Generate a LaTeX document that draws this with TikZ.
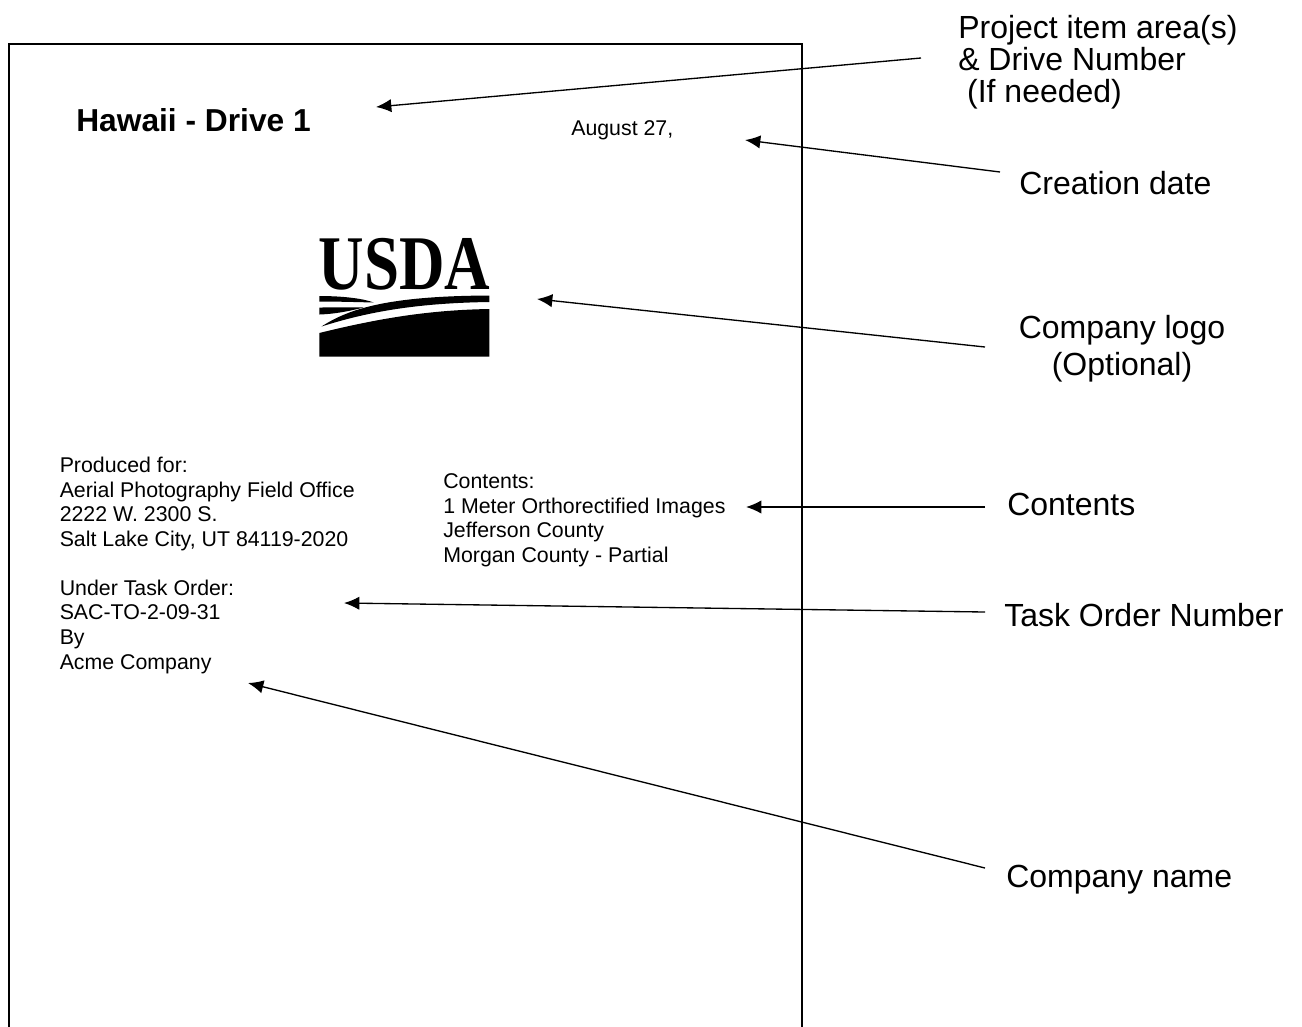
\documentclass[tikz,border=0pt]{standalone}
\usepackage{fontspec}
\setmainfont{Liberation Sans}
\newfontfamily\logofont{Liberation Serif}
\usetikzlibrary{arrows.meta}
\tikzset{
  x=0.75pt,y=-0.75pt,
  biglabel/.style={inner sep=0pt,align=left,font=\fontsize{24}{23.8}\selectfont,text=black},
  smalltext/.style={inner sep=0pt,align=left,font=\fontsize{16}{18.4}\selectfont,text=black},
  arrowline/.style={line width=1pt,-{Latex[length=11.5pt,width=10pt]}},
}
\begin{document}
\begin{tikzpicture}
\useasboundingbox (0,0) rectangle (1302,1026);
% page outline
\path[draw=black,line width=1.5pt] (8.5,1030) -- (8.5,43.5) -- (801.5,43.5) -- (801.5,1030);
% page text
\node[inner sep=0pt,anchor=base west,font=\fontsize{23.8}{26}\bfseries\selectfont] (title) at (76,131) {Hawaii - Drive 1};
\node[smalltext,anchor=base west] (date) at (571,135) {August 27,};
\node[smalltext,anchor=north west] (prod) at (59.5,457) {Produced for:\\Aerial Photography Field Office\\2222 W. 2300 S.\\Salt Lake City, UT 84119-2020\\[18.4pt]Under Task Order:\\SAC-TO-2-09-31\\By\\Acme Company};
\node[smalltext,anchor=north west] (cont) at (443,473.5) {Contents:\\1 Meter Orthorectified Images\\Jefferson County\\Morgan County - Partial};
% logo
\node[inner sep=0pt,anchor=base west,xscale=0.815,font=\fontsize{58}{60}\logofont\bfseries\selectfont] (usda) at (318.5,289) {USDA};
\fill[black] (319.3,333) .. controls (380,318) and (430,310) .. (489.3,309) -- (489.3,356.7) -- (319.3,356.7) -- cycle;
\fill[black] (321.5,326.5) .. controls (350,308) and (390,296) .. (489.3,295.5) -- (489.3,302) .. controls (420,303) and (370,311) .. cycle;
\fill[black] (319.3,296) .. controls (345,296) and (365,299) .. (373.5,302.5) .. controls (355,302) and (335,301.5) .. (319.3,301.5) -- cycle;
\fill[black] (319.3,307.5) .. controls (335,307.5) and (350,307) .. (363.5,307.5) .. controls (350,311) and (335,314) .. (319.3,314.5) -- cycle;
% labels
\node[biglabel,anchor=north west] (area) at (958,15.5) {Project item area(s)\\\& Drive Number\\\ (If needed)};
\node[biglabel,anchor=base west] (creat) at (1019,194) {Creation date};
\node[biglabel,anchor=north,align=center,font=\fontsize{24}{27.6}\selectfont] (logo) at (1122,315) {Company logo\\(Optional)};
\node[biglabel,anchor=base west] (conl) at (1007,515) {Contents};
\node[biglabel,anchor=base west] (task) at (1004,626) {Task Order Number};
\node[biglabel,anchor=base west] (name) at (1006,887) {Company name};
% arrow ends
\coordinate (a1s) at (921,58); \coordinate (a1e) at (376,107);
\coordinate (a2s) at (1000,172); \coordinate (a2e) at (745,140);
\coordinate (a3s) at (985,347); \coordinate (a3e) at (537,299);
\coordinate (a4s) at (985,507); \coordinate (a4e) at (746,507);
\coordinate (a5s) at (985,612); \coordinate (a5e) at (344,603);
\coordinate (a6s) at (985,868); \coordinate (a6e) at (248,683);
\draw[arrowline] (a1s) -- (a1e);
\draw[arrowline] (a2s) -- (a2e);
\draw[arrowline] (a3s) -- (a3e);
\draw[arrowline] (a4s) -- (a4e);
\draw[arrowline] (a5s) -- (a5e);
\draw[arrowline] (a6s) -- (a6e);
\end{tikzpicture}
\end{document}
